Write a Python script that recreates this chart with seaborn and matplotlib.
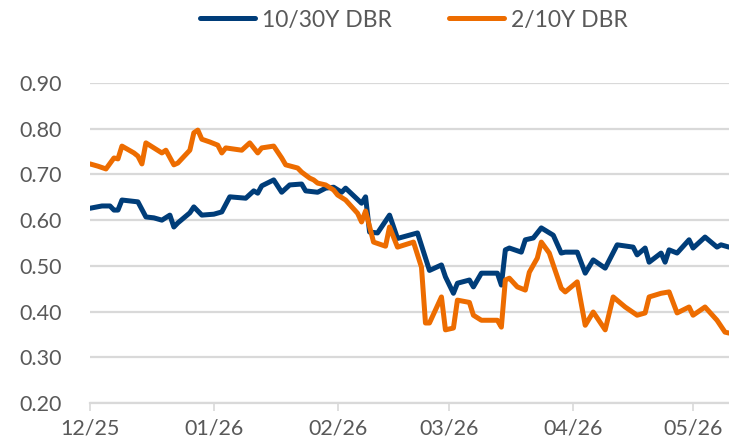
import pandas as pd
import matplotlib
matplotlib.use("Agg")
import matplotlib.pyplot as plt
import matplotlib.dates as mdates
import seaborn as sns

# 10/30Y DBR curve
blue_dates = ["2025-12-01", "2025-12-04", "2025-12-06", "2025-12-07", "2025-12-08", "2025-12-09",
              "2025-12-13", "2025-12-15", "2025-12-17", "2025-12-19", "2025-12-21", "2025-12-22",
              "2025-12-23", "2025-12-26", "2025-12-27", "2025-12-29", "2026-01-01", "2026-01-03",
              "2026-01-05", "2026-01-09", "2026-01-11", "2026-01-12", "2026-01-13", "2026-01-16",
              "2026-01-18", "2026-01-20", "2026-01-23", "2026-01-24", "2026-01-27", "2026-01-29",
              "2026-01-31", "2026-02-02", "2026-02-03", "2026-02-07", "2026-02-08", "2026-02-09",
              "2026-02-11", "2026-02-14", "2026-02-16", "2026-02-21", "2026-02-24", "2026-02-27",
              "2026-02-28", "2026-03-02", "2026-03-03", "2026-03-06", "2026-03-07", "2026-03-09",
              "2026-03-13", "2026-03-14", "2026-03-15", "2026-03-16", "2026-03-19", "2026-03-20",
              "2026-03-22", "2026-03-24", "2026-03-27", "2026-03-29", "2026-03-30", "2026-04-02",
              "2026-04-04", "2026-04-06", "2026-04-09", "2026-04-12", "2026-04-16", "2026-04-17",
              "2026-04-19", "2026-04-20", "2026-04-23", "2026-04-24", "2026-04-25", "2026-04-27",
              "2026-04-30", "2026-05-01", "2026-05-04", "2026-05-07", "2026-05-08", "2026-05-10"]
blue_vals = [0.626, 0.631, 0.631, 0.622, 0.622, 0.644, 0.640, 0.607, 0.605, 0.600,
             0.611, 0.585, 0.594, 0.616, 0.629, 0.611, 0.613, 0.618, 0.651, 0.648,
             0.664, 0.659, 0.675, 0.688, 0.661, 0.677, 0.679, 0.664, 0.661, 0.670,
             0.672, 0.661, 0.670, 0.637, 0.651, 0.574, 0.572, 0.611, 0.560, 0.572,
             0.490, 0.502, 0.476, 0.440, 0.462, 0.469, 0.454, 0.484, 0.484, 0.458,
             0.535, 0.539, 0.530, 0.557, 0.561, 0.583, 0.567, 0.528, 0.530, 0.530,
             0.484, 0.513, 0.495, 0.546, 0.541, 0.524, 0.539, 0.508, 0.528, 0.508,
             0.535, 0.528, 0.557, 0.539, 0.563, 0.541, 0.546, 0.541]

# 2/10Y DBR curve
orange_dates = ["2025-12-01", "2025-12-03", "2025-12-05", "2025-12-07", "2025-12-08", "2025-12-09",
                "2025-12-12", "2025-12-13", "2025-12-14", "2025-12-15", "2025-12-17", "2025-12-19",
                "2025-12-20", "2025-12-22", "2025-12-23", "2025-12-26", "2025-12-27", "2025-12-28",
                "2025-12-29", "2025-12-31", "2026-01-02", "2026-01-03", "2026-01-04", "2026-01-08",
                "2026-01-10", "2026-01-12", "2026-01-13", "2026-01-16", "2026-01-18", "2026-01-19",
                "2026-01-22", "2026-01-23", "2026-01-25", "2026-01-26", "2026-01-27", "2026-01-29",
                "2026-01-31", "2026-02-01", "2026-02-03", "2026-02-06", "2026-02-07", "2026-02-08",
                "2026-02-10", "2026-02-13", "2026-02-14", "2026-02-16", "2026-02-20", "2026-02-22",
                "2026-02-23", "2026-02-24", "2026-02-27", "2026-02-28", "2026-03-02", "2026-03-03",
                "2026-03-06", "2026-03-07", "2026-03-09", "2026-03-13", "2026-03-14", "2026-03-15",
                "2026-03-16", "2026-03-18", "2026-03-20", "2026-03-21", "2026-03-23", "2026-03-24",
                "2026-03-26", "2026-03-27", "2026-03-29", "2026-03-30", "2026-04-02", "2026-04-04",
                "2026-04-06", "2026-04-09", "2026-04-11", "2026-04-14", "2026-04-17", "2026-04-19",
                "2026-04-20", "2026-04-23", "2026-04-25", "2026-04-27", "2026-04-30", "2026-05-01",
                "2026-05-04", "2026-05-07", "2026-05-09", "2026-05-10"]
orange_vals = [0.723, 0.718, 0.712, 0.736, 0.734, 0.762, 0.747, 0.740, 0.723, 0.769,
               0.758, 0.747, 0.753, 0.721, 0.725, 0.753, 0.791, 0.797, 0.777, 0.771,
               0.764, 0.747, 0.758, 0.753, 0.769, 0.747, 0.758, 0.762, 0.736, 0.721,
               0.714, 0.705, 0.692, 0.688, 0.681, 0.677, 0.666, 0.655, 0.644, 0.615,
               0.596, 0.620, 0.552, 0.543, 0.585, 0.541, 0.552, 0.497, 0.375, 0.375,
               0.432, 0.360, 0.364, 0.425, 0.420, 0.392, 0.381, 0.381, 0.366, 0.469,
               0.473, 0.454, 0.447, 0.486, 0.517, 0.552, 0.528, 0.502, 0.451, 0.443,
               0.465, 0.370, 0.399, 0.360, 0.432, 0.410, 0.392, 0.397, 0.432, 0.440,
               0.443, 0.397, 0.410, 0.392, 0.410, 0.381, 0.355, 0.353]

y_ticks = [0.20, 0.30, 0.40, 0.50, 0.60, 0.70, 0.80, 0.90]
month_ticks = ["2025-12-01", "2026-01-01", "2026-02-01", "2026-03-01", "2026-04-01", "2026-05-01"]

BLUE = "#003d79"
ORANGE = "#ed6c00"
GRID = "#d9d9d9"
TEXT = "#595959"

sns.set_style("white")
plt.rcParams["font.family"] = ["Lato", "DejaVu Sans"]

blue_df = pd.DataFrame({"date": pd.to_datetime(blue_dates), "value": blue_vals})
orange_df = pd.DataFrame({"date": pd.to_datetime(orange_dates), "value": orange_vals})

fig = plt.figure(figsize=(7.29, 4.42), dpi=100)
ax = fig.add_axes([90 / 729, 1 - 403 / 442, 1 - 90 / 729, (403 - 83) / 442])

sns.lineplot(data=blue_df, x="date", y="value", ax=ax, color=BLUE, lw=3.6,
             label="10/30Y DBR", solid_joinstyle="round", solid_capstyle="round")
sns.lineplot(data=orange_df, x="date", y="value", ax=ax, color=ORANGE, lw=3.6,
             label="2/10Y DBR", solid_joinstyle="round", solid_capstyle="round")

ax.set_ylim(0.20, 0.90)
ax.set_yticks(y_ticks)
ax.yaxis.set_major_formatter(matplotlib.ticker.FormatStrFormatter("%.2f"))
ax.set_xlim(pd.Timestamp("2025-12-01"), pd.Timestamp("2026-05-10"))
ax.set_xticks(pd.to_datetime(month_ticks))
ax.xaxis.set_major_formatter(mdates.DateFormatter("%m/%y"))

ax.grid(axis="y", color=GRID, lw=1.6)
ax.set_axisbelow(True)
for s in ["left", "right", "top"]:
    ax.spines[s].set_visible(False)
ax.spines["bottom"].set_color(GRID)
ax.spines["bottom"].set_linewidth(1.6)

ax.tick_params(axis="y", length=0, pad=20, labelsize=15.5, labelcolor=TEXT)
ax.tick_params(axis="x", direction="out", length=6, width=1.2, color=GRID,
               pad=5, labelsize=15.5, labelcolor=TEXT, bottom=True)
ax.set_xlabel("")
ax.set_ylabel("")

handles, labels = ax.get_legend_handles_labels()
ax.get_legend().remove()
fig.legend(handles, labels, loc="center", bbox_to_anchor=(414 / 729, 1 - 20 / 442),
           ncol=2, frameon=False, fontsize=16.5, labelcolor=TEXT,
           handlelength=2.4, handletextpad=0.3, columnspacing=2.5)

fig.savefig("out.png", dpi=100)
